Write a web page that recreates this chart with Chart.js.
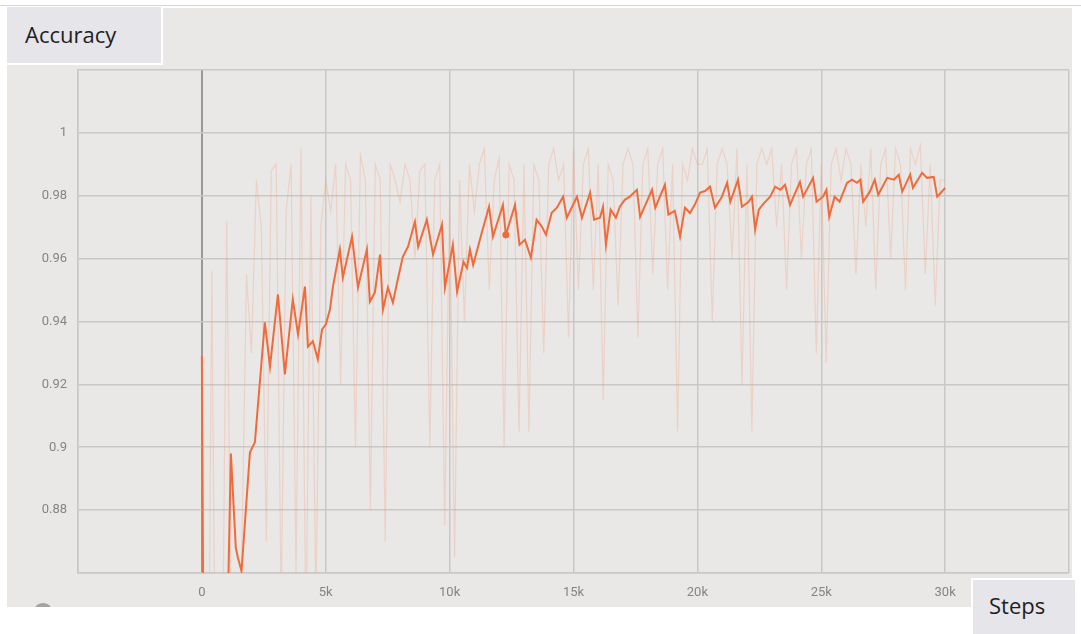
<!DOCTYPE html>
<html>
<head>
<meta charset="utf-8">
<script src="https://cdn.jsdelivr.net/npm/chart.js@4.4.1/dist/chart.umd.min.js"></script>
<style>
  html, body { margin: 0; padding: 0; background: #ffffff; width: 1081px; height: 634px; overflow: hidden; }
  #topline { position: absolute; left: 0; top: 5px; width: 1081px; height: 1px; background: #d6d6d6; }
  #panel { position: absolute; left: 7px; top: 8px; width: 1065px; height: 599px; background: #e9e8e6; overflow: hidden; }
  #knob { position: absolute; left: 28px; top: 595px; width: 16px; height: 12px; border-radius: 50%; background: #a3a3a3; }
  #chart { position: absolute; left: 0; top: 0; }
  .tag { position: absolute; background: #e6e5e9; box-sizing: border-box; border: 2px solid #ffffff;
         font-family: "Open Sans", "Noto Sans", sans-serif; font-size: 22px; line-height: 22px; color: #1e1e1e; }
  #ytag { left: 7px; top: 7px; width: 156px; height: 58px; border-left: 0; border-top: 0; }
  #xtag { left: 971px; top: 578px; width: 106px; height: 58px; border-bottom: 0; }
  .tag span { position: absolute; }
</style>
</head>
<body>
<div id="topline"></div>
<div id="panel"><div id="knob"></div></div>
<canvas id="chart" width="1081" height="634"></canvas>
<div class="tag" id="ytag"><span style="left:18px; top:16px;">Accuracy</span></div>
<div class="tag" id="xtag"><span style="left:16px; top:14px;">Steps</span></div>
<script>
// Raw accuracy, logged every 200 steps
const rawSteps = [
  0, 200, 400, 600, 800, 1000, 1200, 1400, 1600, 1800, 2000, 2200, 2400, 2600, 2800, 3000,
  3200, 3400, 3600, 3800, 4000, 4200, 4400, 4600, 4800, 5000, 5200, 5400, 5600, 5800, 6000,
  6200, 6400, 6600, 6800, 7000, 7200, 7400, 7600, 7800, 8000, 8200, 8400, 8600, 8800, 9000,
  9200, 9400, 9600, 9800, 10000, 10200, 10400, 10600, 10800, 11000, 11200, 11400, 11600, 11800, 12000,
  12200, 12400, 12600, 12800, 13000, 13200, 13400, 13600, 13800, 14000, 14200, 14400, 14600, 14800, 15000,
  15200, 15400, 15600, 15800, 16000, 16200, 16400, 16600, 16800, 17000, 17200, 17400, 17600, 17800, 18000,
  18200, 18400, 18600, 18800, 19000, 19200, 19400, 19600, 19800, 20000, 20200, 20400, 20600, 20800, 21000,
  21200, 21400, 21600, 21800, 22000, 22200, 22400, 22600, 22800, 23000, 23200, 23400, 23600, 23800, 24000,
  24200, 24400, 24600, 24800, 25000, 25200, 25400, 25600, 25800, 26000, 26200, 26400, 26600, 26800, 27000,
  27200, 27400, 27600, 27800, 28000, 28200, 28400, 28600, 28800, 29000, 29200, 29400, 29600, 29800, 30000
];
const rawAccuracy = [
  0.929, 0.74, 0.956, 0.76, 0.80, 0.972, 0.83, 0.79, 0.86, 0.955, 0.93, 0.985, 0.97, 0.87, 0.988, 0.99,
  0.85, 0.975, 0.99, 0.86, 0.995, 0.84, 0.98, 0.85, 0.97, 0.985, 0.975, 0.99, 0.92, 0.99, 0.985,
  0.90, 0.993, 0.985, 0.88, 0.99, 0.985, 0.87, 0.99, 0.985, 0.978, 0.99, 0.985, 0.96, 0.988, 0.99,
  0.90, 0.985, 0.99, 0.875, 0.98, 0.865, 0.985, 0.94, 0.99, 0.975, 0.99, 0.995, 0.95, 0.985, 0.992,
  0.90, 0.99, 0.985, 0.905, 0.99, 0.905, 0.99, 0.985, 0.93, 0.99, 0.995, 0.985, 0.99, 0.935, 0.995,
  0.95, 0.99, 0.995, 0.95, 0.99, 0.915, 0.99, 0.985, 0.945, 0.99, 0.995, 0.99, 0.935, 0.99, 0.995,
  0.955, 0.99, 0.995, 0.95, 0.99, 0.905, 0.99, 0.985, 0.995, 0.99, 0.99, 0.995, 0.94, 0.99, 0.995,
  0.99, 0.96, 0.995, 0.92, 0.99, 0.905, 0.99, 0.995, 0.99, 0.995, 0.97, 0.99, 0.95, 0.99, 0.995,
  0.96, 0.99, 0.995, 0.93, 0.99, 0.927, 0.99, 0.995, 0.985, 0.995, 0.99, 0.955, 0.99, 0.97, 0.995,
  0.95, 0.99, 0.995, 0.96, 0.995, 0.99, 0.95, 0.995, 0.99, 0.996, 0.955, 0.99, 0.945, 0.985, 0.985
];

// Smoothed accuracy curve
const smoothSteps = [
  0, 150, 600, 1000, 1170, 1370, 1450, 1600, 1940, 2140, 2540, 2750, 3070, 3350, 3670, 3880,
  4160, 4280, 4480, 4680, 4850, 5000, 5170, 5290, 5570, 5690, 6060, 6300, 6660, 6780, 6980,
  7190, 7310, 7510, 7710, 7880, 8110, 8320, 8600, 8730, 9080, 9330, 9690, 9810, 10130, 10300,
  10560, 10700, 10820, 10950, 11300, 11590, 11750, 12150, 12270, 12640, 12820, 13040, 13280, 13510, 13720,
  13890, 14120, 14330, 14580, 14730, 15140, 15340, 15670, 15830, 16070, 16190, 16310, 16500, 16710, 16870,
  17070, 17270, 17560, 17690, 18170, 18300, 18690, 18830, 19090, 19300, 19500, 19700, 19900, 20110, 20310,
  20510, 20710, 20980, 21200, 21330, 21640, 21800, 22070, 22200, 22330, 22480, 22670, 22940, 23140, 23350,
  23540, 23740, 24140, 24270, 24670, 24810, 25070, 25210, 25320, 25540, 25740, 26040, 26240, 26440, 26580,
  26690, 26960, 27160, 27300, 27660, 27930, 28130, 28270, 28590, 28700, 29070, 29270, 29540, 29680, 29810, 30000
];
const smoothAccuracy = [
  0.929, 0.70, 0.74, 0.83, 0.898, 0.868, 0.865, 0.8606, 0.8984, 0.9016, 0.9397, 0.9257, 0.9486, 0.9232, 0.947, 0.9359,
  0.9511, 0.932, 0.9337, 0.928, 0.9375, 0.939, 0.9438, 0.9511, 0.9629, 0.954, 0.967, 0.9508, 0.9629, 0.9463, 0.9492,
  0.9613, 0.9438, 0.9508, 0.946, 0.9524, 0.9606, 0.9638, 0.9717, 0.9638, 0.9724, 0.9613, 0.9708, 0.9508, 0.9644, 0.9495,
  0.959, 0.957, 0.9629, 0.958, 0.9683, 0.9765, 0.967, 0.9771, 0.9676, 0.9771, 0.9644, 0.966, 0.9603, 0.9724, 0.9702,
  0.9676, 0.9746, 0.9762, 0.9797, 0.973, 0.9797, 0.973, 0.981, 0.9724, 0.973, 0.9765, 0.9644, 0.9756, 0.973, 0.9765,
  0.9787, 0.9797, 0.9819, 0.9733, 0.9819, 0.9762, 0.9835, 0.974, 0.9752, 0.967, 0.9762, 0.9745, 0.9772, 0.981, 0.9815,
  0.9829, 0.9762, 0.9795, 0.9841, 0.9781, 0.9851, 0.9765, 0.9781, 0.9797, 0.9692, 0.9756, 0.9775, 0.9797, 0.9829, 0.9819,
  0.9835, 0.9771, 0.9844, 0.9797, 0.9857, 0.9781, 0.9797, 0.9819, 0.9733, 0.9797, 0.9781, 0.9841, 0.9851, 0.9841, 0.9851,
  0.9781, 0.9813, 0.9851, 0.9803, 0.9857, 0.9851, 0.9867, 0.9813, 0.9867, 0.9825, 0.9873, 0.9857, 0.986, 0.9797, 0.9808, 0.9825
];

// Axis ranges and the labelled tick span
const stepMin = -5000, stepMax = 35000, stepTick = 5000;
const stepLabelMin = 0, stepLabelMax = 30000;
const accMin = 0.86, accMax = 1.02, accTick = 0.02;
const accLabelMin = 0.88, accLabelMax = 1.0;
const markedStep = 12270;

const toPoints = (xs, ys) => xs.map((x, i) => ({ x: x, y: ys[i] }));

const gridColor = '#c9c8c6';
const tickFont = { family: '"Liberation Sans Narrow", "Roboto", sans-serif', size: 13 };

new Chart(document.getElementById('chart'), {
  type: 'line',
  data: {
    datasets: [
      {
        label: 'smoothed',
        data: toPoints(smoothSteps, smoothAccuracy),
        borderColor: '#f06b3b',
        backgroundColor: '#f06b3b',
        borderWidth: 2,
        tension: 0,
        pointRadius: ctx => (ctx.raw && ctx.raw.x === markedStep ? 3.5 : 0),
        pointBorderWidth: 0,
        fill: false
      },
      {
        label: 'raw',
        data: toPoints(rawSteps, rawAccuracy),
        borderColor: 'rgba(246, 150, 115, 0.28)',
        borderWidth: 1.2,
        tension: 0,
        pointRadius: 0,
        fill: false
      }
    ]
  },
  options: {
    responsive: false,
    animation: false,
    devicePixelRatio: 1,
    layout: { padding: { top: 70, right: 11, left: 0, bottom: 0 } },
    plugins: { legend: { display: false }, tooltip: { enabled: false } },
    scales: {
      x: {
        type: 'linear',
        min: stepMin,
        max: stepMax,
        afterFit: s => { s.height = 61; },
        border: { display: true, color: gridColor, width: 1.5 },
        grid: {
          drawTicks: false,
          color: c => (c.tick && c.tick.value === 0 ? '#9a9998' : gridColor),
          lineWidth: c => (c.tick && c.tick.value === 0 ? 2 : 1.5)
        },
        ticks: {
          stepSize: stepTick,
          padding: 12,
          maxRotation: 0,
          autoSkip: false,
          color: '#858585',
          font: tickFont,
          callback: v => {
            if (v < stepLabelMin || v > stepLabelMax) return '';
            return v === 0 ? '0' : (v / 1000) + 'k';
          }
        }
      },
      y: {
        min: accMin,
        max: accMax,
        afterFit: s => { s.width = 78; },
        border: { display: true, color: gridColor, width: 1.5 },
        grid: { drawTicks: false, color: gridColor, lineWidth: 1.5 },
        ticks: {
          stepSize: accTick,
          padding: 11,
          autoSkip: false,
          color: '#858585',
          font: tickFont,
          callback: v => {
            const r = Math.round(v * 100) / 100;
            if (r < accLabelMin - 1e-9 || r > accLabelMax + 1e-9) return '';
            return String(r);
          }
        }
      }
    }
  }
});
</script>
</body>
</html>
